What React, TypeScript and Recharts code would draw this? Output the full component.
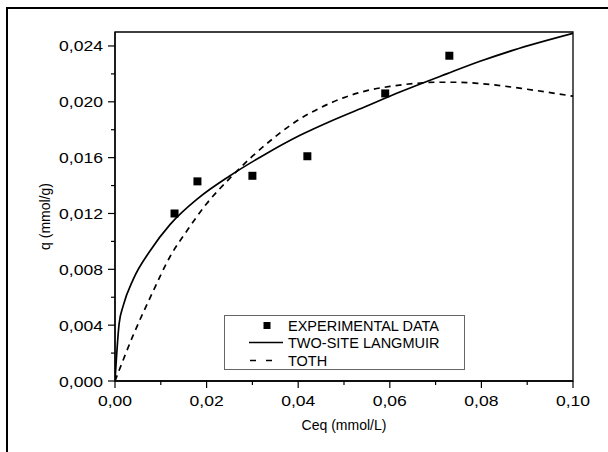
import { ComposedChart, Line, Scatter, XAxis, YAxis, ReferenceArea, Legend } from 'recharts'

// experimental points
const expC = [0.013, 0.018, 0.030, 0.042, 0.059, 0.073]
const expQ = [0.0120, 0.0143, 0.0147, 0.0161, 0.0206, 0.0233]

// two-site langmuir fit
const langC = [0, 0.0009, 0.0018, 0.004, 0.0076, 0.012, 0.0182, 0.0251, 0.0331, 0.0404, 0.0477, 0.055, 0.0622, 0.0724, 0.0797, 0.087, 0.1]
const langQ = [0, 0.0041, 0.0054, 0.0073, 0.0093, 0.0112, 0.0131, 0.0147, 0.0163, 0.0176, 0.0187, 0.0197, 0.0207, 0.0220, 0.0229, 0.0237, 0.0249]

// toth fit
const tothC = [0, 0.004, 0.008, 0.012, 0.016, 0.02, 0.025, 0.03, 0.035, 0.04, 0.045, 0.05, 0.055, 0.06, 0.065, 0.07, 0.075, 0.08, 0.09, 0.1]
const tothQ = [0, 0.0033, 0.0062, 0.0089, 0.0109, 0.0127, 0.0145, 0.0161, 0.0175, 0.0187, 0.0196, 0.0203, 0.0208, 0.0211, 0.0213, 0.0214, 0.0214, 0.0213, 0.0209, 0.0204]

const xTicks = [0, 0.01, 0.02, 0.03, 0.04, 0.05, 0.06, 0.07, 0.08, 0.09, 0.1]
const xMajor = ['0,00', '0,02', '0,04', '0,06', '0,08', '0,10']
const yTicks = [0, 0.002, 0.004, 0.006, 0.008, 0.01, 0.012, 0.014, 0.016, 0.018, 0.02, 0.022, 0.024]
const yMajor = ['0,000', '0,004', '0,008', '0,012', '0,016', '0,020', '0,024']

const seriesNames = ['EXPERIMENTAL DATA', 'TWO-SITE LANGMUIR', 'TOTH']

const toRows = (cs: number[], qs: number[]) => cs.map((c, i) => ({ c, q: qs[i] }))
const expData = toRows(expC, expQ)
const langData = toRows(langC, langQ)
const tothData = toRows(tothC, tothQ)

const FONT = '"Liberation Sans", Arial, sans-serif'

const XTick = (props: any) => {
  const { x, y, payload } = props
  const label = Number(payload.value).toFixed(2).replace('.', ',')
  const major = xMajor.includes(label)
  return (
    <g>
      <line x1={x} x2={x} y1={y} y2={y + (major ? 7 : 4)} stroke="#000" strokeWidth={1.2} />
      {major && (
        <text transform={`translate(${x},${y + 25}) scale(1.17,1)`} textAnchor="middle" fontSize={15} fontFamily={FONT} fill="#000">
          {label}
        </text>
      )}
    </g>
  )
}

const YTick = (props: any) => {
  const { x, y, payload } = props
  const label = Number(payload.value).toFixed(3).replace('.', ',')
  const major = yMajor.includes(label)
  return (
    <g>
      <line x1={x} x2={x - (major ? 7 : 4)} y1={y} y2={y} stroke="#000" strokeWidth={1.2} />
      {major && (
        <text transform={`translate(${x - 12},${y + 5.5}) scale(1.17,1)`} textAnchor="end" fontSize={15} fontFamily={FONT} fill="#000">
          {label}
        </text>
      )}
    </g>
  )
}

const LegendBox = () => (
  <div style={{ width: 241, height: 55, border: '1.5px solid #666', background: '#fff', boxSizing: 'border-box', fontFamily: FONT, fontSize: 14.5, color: '#000' }}>
    {seriesNames.map((name, i) => (
      <div key={name} style={{ position: 'absolute', left: 0, top: [2, 19, 37][i], height: 17, display: 'flex', alignItems: 'center' }}>
        <svg width={64} height={17}>
          {i === 0 && <rect x={39.5} y={5} width={7} height={7} fill="#000" />}
          {i === 1 && <line x1={25} x2={59} y1={8.5} y2={8.5} stroke="#000" strokeWidth={1.6} />}
          {i === 2 && <line x1={26} x2={50} y1={8.5} y2={8.5} stroke="#000" strokeWidth={1.6} strokeDasharray="6 10" />}
        </svg>
        <span style={{ whiteSpace: 'nowrap' }}>{name}</span>
      </div>
    ))}
  </div>
)

export default function App() {
  return (
    <div style={{ position: 'absolute', left: 0, top: 0, width: 608, height: 452, overflow: 'hidden', background: '#fff' }}>
      <div style={{ position: 'absolute', left: 6, top: 7, width: 800, height: 800, border: '2px solid #000' }} />
      <div style={{ position: 'absolute', left: 0, top: 0 }}>
        <ComposedChart width={608} height={452} margin={{ top: 32, right: 35, left: 0, bottom: 0 }}>
          <XAxis
            dataKey="c"
            type="number"
            domain={[0, 0.1]}
            ticks={xTicks}
            interval={0}
            height={71}
            tickSize={0}
            tickMargin={0}
            tickLine={false}
            tick={<XTick />}
            axisLine={{ stroke: '#000', strokeWidth: 1.3 }}
            allowDataOverflow
            label={{ value: 'Ceq (mmol/L)', position: 'insideBottom', offset: 22, fontSize: 14, fontFamily: FONT, fill: '#000' }}
          />
          <YAxis
            dataKey="q"
            type="number"
            domain={[0, 0.025]}
            ticks={yTicks}
            interval={0}
            width={115}
            tickSize={0}
            tickMargin={0}
            tickLine={false}
            tick={<YTick />}
            axisLine={{ stroke: '#000', strokeWidth: 1.3 }}
            allowDataOverflow
            label={{
              content: (p: any) => {
                const vb = p.viewBox
                const cy = vb.y + vb.height / 2 + 10
                return (
                  <text x={50} y={cy} transform={`rotate(-90, 50, ${cy})`} textAnchor="middle" fontSize={14} fontFamily={FONT} fill="#000">
                    q (mmol/g)
                  </text>
                )
              },
            }}
          />
          <ReferenceArea x1={0} x2={0.1} y1={0} y2={0.025} fill="none" stroke="#000" strokeWidth={1.3} />
          <Line data={tothData} dataKey="q" name={seriesNames[2]} type="monotone" stroke="#000" strokeWidth={1.7} strokeDasharray="6 5" dot={false} isAnimationActive={false} />
          <Line data={langData} dataKey="q" name={seriesNames[1]} type="monotone" stroke="#000" strokeWidth={1.7} dot={false} isAnimationActive={false} />
          <Scatter data={expData} dataKey="q" name={seriesNames[0]} fill="#000" shape="square" isAnimationActive={false} />
          <Legend
            layout="vertical"
            align="center"
            verticalAlign="middle"
            content={() => <LegendBox />}
            wrapperStyle={{ position: 'absolute', left: 224, top: 315, width: 241, height: 55 }}
          />
        </ComposedChart>
      </div>
    </div>
  )
}
